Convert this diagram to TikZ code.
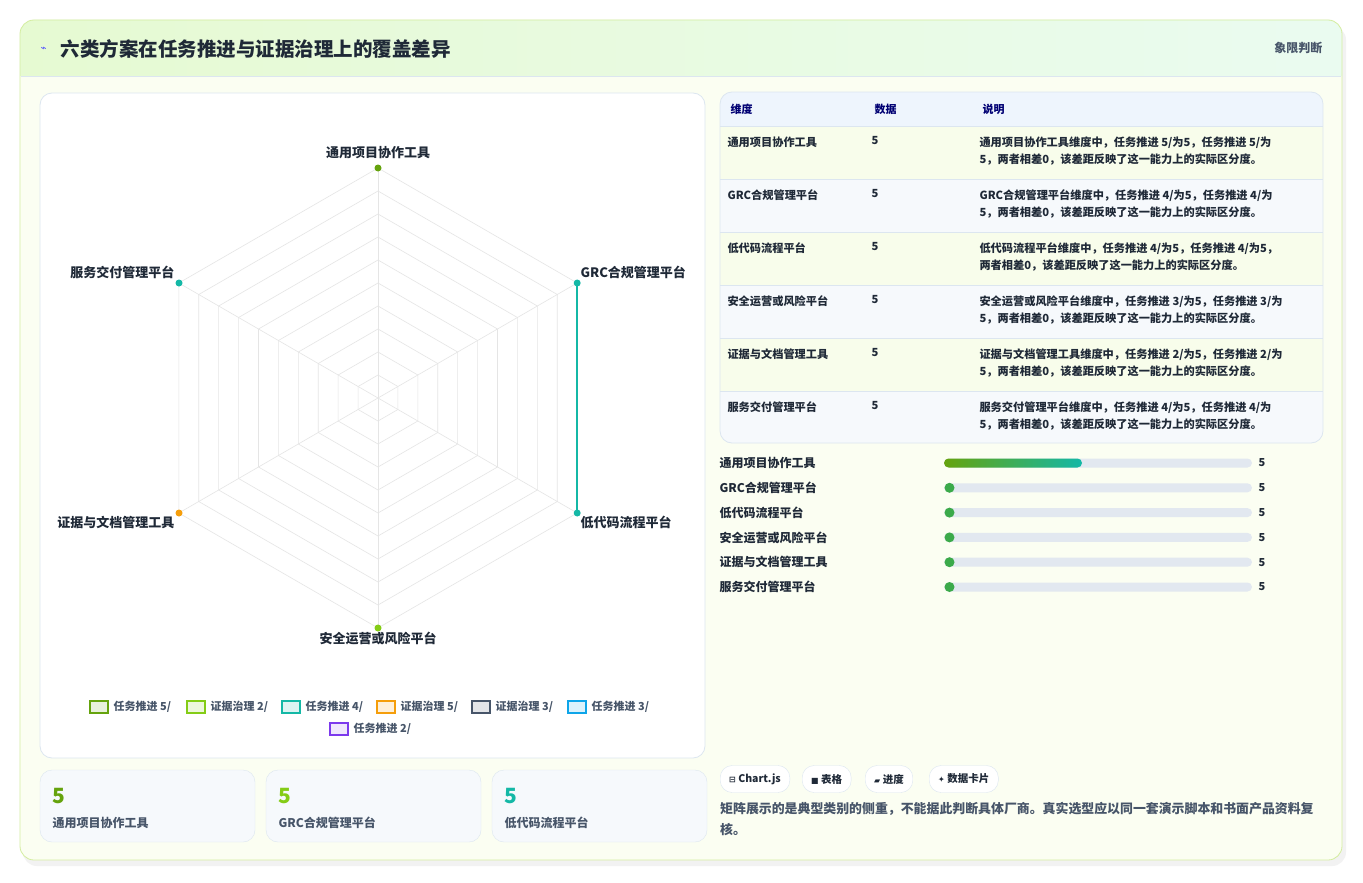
\documentclass[tikz,border=0pt]{standalone}
\usepackage{fontspec}
\setmainfont{Noto Sans CJK SC}
\newfontfamily\symf{DejaVu Sans}
\usetikzlibrary{calc}
\definecolor{txt}{HTML}{1F2937}
\definecolor{sub}{HTML}{475569}
\definecolor{bd}{HTML}{DCE6F0}
\definecolor{trk}{HTML}{E2E8F0}
\definecolor{gA}{HTML}{65A30D}
\definecolor{gB}{HTML}{84CC16}
\definecolor{tl}{HTML}{14B8A6}
\definecolor{org}{HTML}{F59E0B}
\definecolor{slt}{HTML}{475569}
\definecolor{sky}{HTML}{0EA5E9}
\definecolor{vio}{HTML}{7C3AED}
\definecolor{dotg}{HTML}{3BAA4A}
\definecolor{panel}{HTML}{FBFEF2}
\definecolor{hdA}{HTML}{E6FAD2}
\definecolor{hdB}{HTML}{EAFBF0}
\definecolor{pbd}{HTML}{D4EDA0}
\definecolor{rowA}{HTML}{F8FDEB}
\definecolor{rowB}{HTML}{F6F9FC}
\definecolor{thd}{HTML}{EEF5FD}
\begin{document}
\begin{tikzpicture}[x=1pt,y=-1pt,
  card/.style={draw=bd,fill=white,rounded corners=12pt,line width=0.8pt},
  lab/.style={font=\fontsize{13}{15}\selectfont\bfseries,text=txt},
  pill/.style={draw=bd,fill=white,rounded corners=12pt,font=\fontsize{10.5}{12}\selectfont\bfseries,text=txt,minimum height=27pt,inner xsep=9pt},
  dot/.style={circle,inner sep=0pt,minimum size=7pt}]
\useasboundingbox (0,0) rectangle (1363,883);
\fill[white] (0,0) rectangle (1363,883);
\fill[black!5,rounded corners=14pt] (23,26) rectangle (1346,866);
% main panel
\fill[panel,rounded corners=14pt] (20,20) rectangle (1342,860);
\shade[left color=hdA,right color=hdB,rounded corners=14pt] (20,20) rectangle (1342,76);
\shade[left color=hdA,right color=hdB] (20,56) rectangle (1342,76);
\draw[draw=pbd,line width=0.8pt,rounded corners=14pt] (20,20) rectangle (1342,860);
\draw[bd] (21,76) -- (1341,76);
\node[anchor=west,font=\symf\fontsize{10}{10}\selectfont,text=blue!70] (ic) at (37,49) {⌁};
\node[anchor=west,font=\fontsize{19.5}{22}\selectfont\bfseries,text=txt] (title) at (57,49) {六类方案在任务推进与证据治理上的覆盖差异};
\node[anchor=east,font=\fontsize{12}{14}\selectfont\bfseries,text=sub] (tag) at (1326,48) {象限判断};
% radar card
\draw[card] (40,93) rectangle (705,758);
\coordinate (C) at (378,398);
\foreach \r in {23,46,...,230}{
  \draw[black!10,line width=0.6pt] ($(C)+(90:\r)$) \foreach \a in {30,-30,-90,-150,150}{ -- ($(C)+(\a:\r)$)} -- cycle;}
\foreach \a in {90,30,-30,-90,-150,150}{\draw[black!10,line width=0.6pt] (C) -- ($(C)+(\a:230)$);}
\draw[tl,line width=1.8pt] ($(C)+(30:230)$) -- ($(C)+(-30:230)$);
\node[dot,fill=gA] (p1) at (378,168) {};
\node[dot,fill=tl] (p2) at ($(C)+(30:230)$) {};
\node[dot,fill=tl] (p3) at ($(C)+(-30:230)$) {};
\node[dot,fill=gB] (p4) at (378,628) {};
\node[dot,fill=org] (p5) at (179,513) {};
\node[dot,fill=tl] (p6) at (179,283) {};
\node[lab,anchor=south] at (378,162) {通用项目协作工具};
\node[lab,anchor=west] at (577,272) {GRC合规管理平台};
\node[lab,anchor=west] at (577,522) {低代码流程平台};
\node[lab,anchor=north] at (378,629) {安全运营或风险平台};
\node[lab,anchor=east] at (178,522) {证据与文档管理工具};
\node[lab,anchor=east] at (178,272) {服务交付管理平台};
% legend
\tikzset{lg/.style={font=\fontsize{11}{12}\selectfont\bfseries,text=sub,anchor=west}}
\foreach \x/\c/\t in {90/gA/任务推进 5,187/gB/证据治理 2,282/tl/任务推进 4,377/org/证据治理 5,472/slt/证据治理 3,568/sky/任务推进 3}{
  \draw[\c,fill=\c!15,line width=1.6pt] (\x,701) rectangle (\x+18,713);
  \node[lg] at (\x+20,707) {\t\slash};}
\draw[vio,fill=vio!12,line width=1.6pt] (330,723) rectangle (348,735);
\node[lg] at (350,729) {任务推进 2/};
% stat cards
\foreach \x/\c/\t in {40/gA/通用项目协作工具,266/gB/GRC合规管理平台,492/tl/低代码流程平台}{
  \draw[bd,fill=rowB,rounded corners=12pt] (\x,770) rectangle (\x+215,842);
  \node[anchor=west,font=\fontsize{21}{22}\selectfont\bfseries,text=\c] at (\x+9,796) {5};
  \node[anchor=west,font=\fontsize{12}{14}\selectfont\bfseries,text=sub] at (\x+9,823) {\t};}
% table
\begin{scope}
\clip[rounded corners=12pt] (720,92) rectangle (1323,443);
\fill[thd] (720,92) rectangle (1323,126);
\foreach \i in {0,...,5}{
  \pgfmathsetmacro\yy{126+53*\i}
  \ifodd\i \fill[rowB] (720,\yy) rectangle (1323,\yy+53); \else \fill[rowA] (720,\yy) rectangle (1323,\yy+53);\fi
  \draw[bd] (720,\yy) -- (1323,\yy);}
\end{scope}
\draw[bd,line width=0.8pt,rounded corners=12pt] (720,92) rectangle (1323,443);
\tikzset{th/.style={font=\fontsize{11}{12}\selectfont\bfseries,text=blue!45!black,anchor=west},
 td/.style={font=\fontsize{11.2}{17.5}\selectfont\bfseries,text=txt,anchor=north west}}
\node[th] at (727,109) {维度};\node[th] at (871,109) {数据};\node[th] at (979,109) {说明};
\foreach \i/\n/\d in {0/通用项目协作工具/{通用项目协作工具维度中，任务推进 5\slash 为5，任务推进 5\slash 为\\5，两者相差0，该差距反映了这一能力上的实际区分度。},
 1/GRC合规管理平台/{GRC合规管理平台维度中，任务推进 4\slash 为5，任务推进 4\slash 为\\5，两者相差0，该差距反映了这一能力上的实际区分度。},
 2/低代码流程平台/{低代码流程平台维度中，任务推进 4\slash 为5，任务推进 4\slash 为5，\\两者相差0，该差距反映了这一能力上的实际区分度。},
 3/安全运营或风险平台/{安全运营或风险平台维度中，任务推进 3\slash 为5，任务推进 3\slash 为\\5，两者相差0，该差距反映了这一能力上的实际区分度。},
 4/证据与文档管理工具/{证据与文档管理工具维度中，任务推进 2\slash 为5，任务推进 2\slash 为\\5，两者相差0，该差距反映了这一能力上的实际区分度。},
 5/服务交付管理平台/{服务交付管理平台维度中，任务推进 4\slash 为5，任务推进 4\slash 为\\5，两者相差0，该差距反映了这一能力上的实际区分度。}}{
  \pgfmathsetmacro\yy{133+53*\i}
  \node[td] at (724,\yy) {\n};
  \node[td] at (868,\yy) {5};
  \node[td,align=left] at (976,\yy) {\d};}
% bars
\foreach \i/\n in {0/通用项目协作工具,1/GRC合规管理平台,2/低代码流程平台,3/安全运营或风险平台,4/证据与文档管理工具,5/服务交付管理平台}{
  \pgfmathsetmacro\yy{463+24.8*\i}
  \node[anchor=west,font=\fontsize{12}{14}\selectfont\bfseries,text=txt] at (716,\yy) {\n};
  \fill[trk,rounded corners=4.5pt] (944,\yy-4.5) rectangle (1252,\yy+4.5);
  \node[anchor=west,font=\fontsize{11}{12}\selectfont\bfseries,text=txt] at (1255,\yy) {5};
  \ifnum\i>0 \fill[dotg] (949.5,\yy) circle (5pt);\fi}
\shade[left color=gA,right color=tl,rounded corners=4.5pt] (944,458.5) rectangle (1082,467.5);
% pills
\node[pill,anchor=west] (b1) at (720,779) {{\symf\fontsize{8}{8}\selectfont ⊟} Chart.js};
\node[pill,anchor=west] (b2) at (802,779) {{\symf\fontsize{8}{8}\selectfont ■} 表格};
\node[pill,anchor=west] (b3) at (865,779) {{\symf\fontsize{8}{8}\selectfont ▰} 进度};
\node[pill,anchor=west] (b4) at (929,779) {{\symf\fontsize{8}{8}\selectfont ✦} 数据卡片};
\node[anchor=north west,align=left,font=\fontsize{12.9}{21}\selectfont\bfseries,text=sub,inner sep=0pt] at (720,802) {矩阵展示的是典型类别的侧重，不能据此判断具体厂商。真实选型应以同一套演示脚本和书面产品资料复\\核。};
\end{tikzpicture}
\end{document}
